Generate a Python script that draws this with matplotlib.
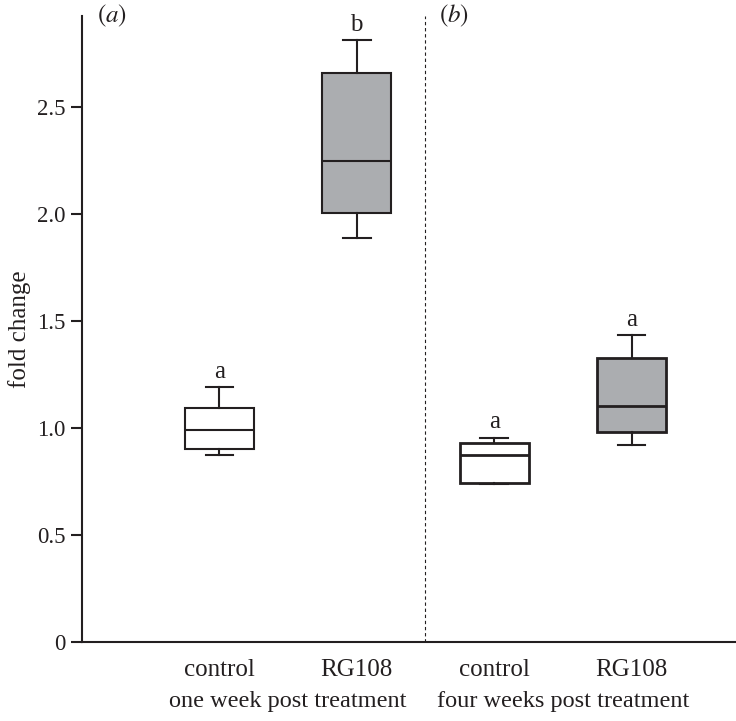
import matplotlib.pyplot as plt
import numpy as np

plt.rcParams["font.family"] = ["Liberation Serif", "DejaVu Serif"]
plt.rcParams["mathtext.fontset"] = "stix"

# box statistics (fold change)
groups = ["control", "RG108", "control", "RG108"]
periods = ["one week post treatment", "four weeks post treatment"]
whislo = [0.873, 1.888, 0.738, 0.921]
q1 = [0.900, 2.005, 0.745, 0.981]
med = [0.990, 2.248, 0.876, 1.103]
q3 = [1.093, 2.659, 0.928, 1.327]
whishi = [1.190, 2.813, 0.955, 1.435]
letters = ["a", "b", "a", "a"]
fills = ["white", "#abadb0", "white", "#abadb0"]

EDGE = "#231f20"

fig = plt.figure(figsize=(7.36, 7.21), dpi=100)
ax = fig.add_axes([0.1114, 0.1096, 0.8886, 0.8682])

positions = np.arange(1, len(groups) + 1)
stats = []
for i in range(len(groups)):
    stats.append({"med": med[i], "q1": q1[i], "q3": q3[i],
                  "whislo": whislo[i], "whishi": whishi[i], "fliers": []})

for idx, lw in [([0, 1], 1.5), ([2, 3], 2.0)]:
    bp = ax.bxp([stats[i] for i in idx], positions=positions[idx], widths=0.5,
                patch_artist=True, showfliers=False, capwidths=0.2,
                boxprops=dict(edgecolor=EDGE, linewidth=lw),
                medianprops=dict(color=EDGE, linewidth=lw),
                whiskerprops=dict(color=EDGE, linewidth=1.5),
                capprops=dict(color=EDGE, linewidth=1.5))
    for patch, i in zip(bp["boxes"], idx):
        patch.set_facecolor(fills[i])

for p, top, lab in zip(positions, whishi, letters):
    ax.annotate(lab, (p, top), xytext=(0, 3), textcoords="offset points",
                ha="center", va="bottom", fontsize=18, color=EDGE)

ax.axvline(2.5, color=EDGE, lw=0.8, ls=(0, (3, 2.5)))

ax.set_xlim(0, 4.76)
ax.set_ylim(0, 2.925)
ax.set_yticks([0, 0.5, 1.0, 1.5, 2.0, 2.5])
ax.set_yticklabels(["0", "0.5", "1.0", "1.5", "2.0", "2.5"])
ax.set_xticks(positions)
ax.set_xticklabels(groups)
ax.tick_params(axis="x", length=0, pad=12, labelsize=18, colors=EDGE)
ax.tick_params(axis="y", length=8, width=1.5, pad=4, labelsize=16.5, colors=EDGE)
for s in ["top", "right"]:
    ax.spines[s].set_visible(False)
for s in ["left", "bottom"]:
    ax.spines[s].set_linewidth(1.5)
    ax.spines[s].set_color(EDGE)

ax.set_ylabel("fold change", fontsize=18, color=EDGE, labelpad=4)

for j, name in enumerate(periods):
    xc = positions[2 * j:2 * j + 2].mean()
    ax.annotate(name, (xc, 0), xycoords=("data", "axes fraction"),
                xytext=(0, -42.5), textcoords="offset points",
                ha="center", va="center", fontsize=17.5, color=EDGE)

ax.text(0.22, 1.0, r"$\mathrm{(}a\mathrm{)}$", transform=ax.get_xaxis_transform(),
        ha="center", va="center", fontsize=18, color=EDGE, clip_on=False)
ax.text(2.71, 1.0, r"$\mathrm{(}b\mathrm{)}$", transform=ax.get_xaxis_transform(),
        ha="center", va="center", fontsize=18, color=EDGE, clip_on=False)

fig.savefig("out.png", dpi=100)
